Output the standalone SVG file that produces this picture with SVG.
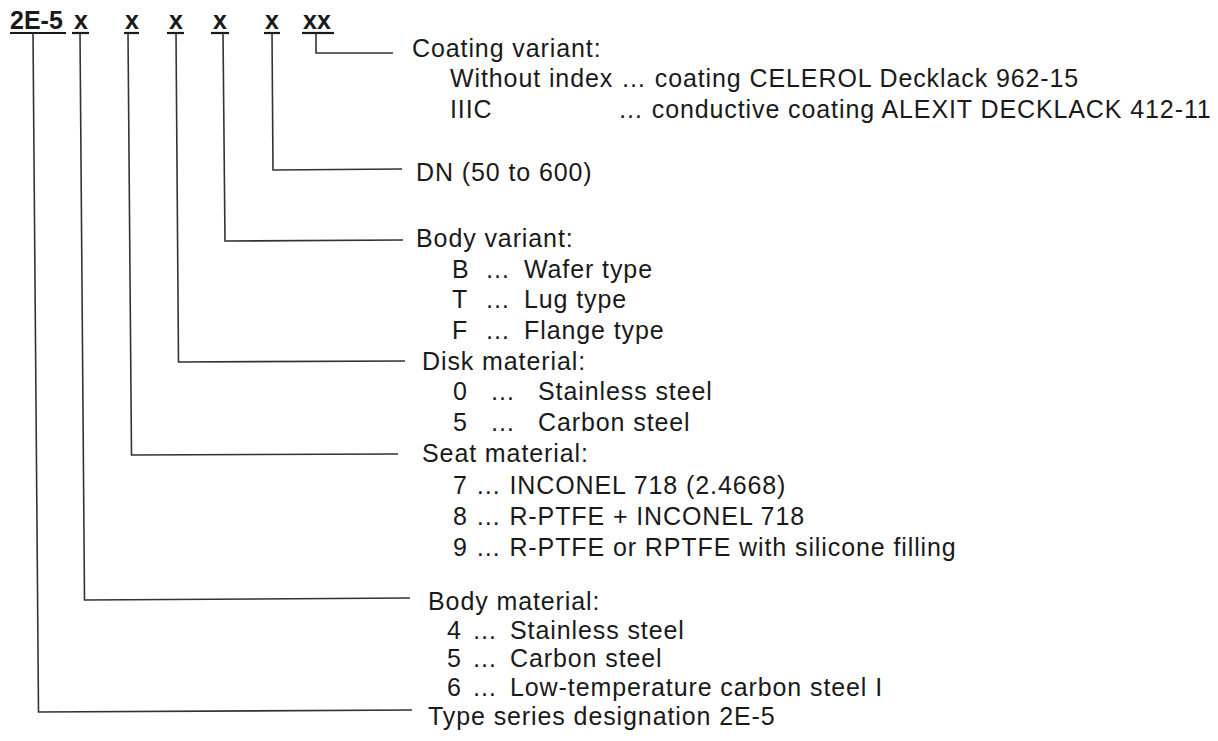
<svg xmlns="http://www.w3.org/2000/svg" width="1218" height="741" viewBox="0 0 1218 741">
<style>
text{font-family:"Liberation Sans",Arial,sans-serif;fill:#1a1a1a}
.t{font-size:25px;letter-spacing:0.9px}
.h{font-size:25px;font-weight:bold}
.c{fill:none;stroke:#333;stroke-width:1.6}
.u{stroke:#1a1a1a;stroke-width:2.2}
</style>
<rect width="1218" height="741" fill="#fff"/>
<g id="header">
<text class="h" x="10" y="29">2E-5</text>
<text class="h" x="74" y="29">x</text>
<text class="h" x="125" y="29">x</text>
<text class="h" x="169" y="29">x</text>
<text class="h" x="213" y="29">x</text>
<text class="h" x="265" y="29">x</text>
<text class="h" x="303" y="29">xx</text>
<g class="u">
<line x1="10" y1="33" x2="66" y2="33"/>
<line x1="72" y1="33" x2="89" y2="33"/>
<line x1="124" y1="33" x2="139" y2="33"/>
<line x1="167" y1="33" x2="184" y2="33"/>
<line x1="211" y1="33" x2="229" y2="33"/>
<line x1="264" y1="33" x2="280" y2="33"/>
<line x1="302" y1="33" x2="334" y2="33"/>
</g>
</g>
<g id="connectors" class="c">
<polyline points="316,33 316,53 393,53"/>
<polyline points="272,33 273,170 402,169"/>
<polyline points="223,33 225,241 403,240"/>
<polyline points="176,33 178.5,362 405,361"/>
<polyline points="128,33 131.5,455 398,454"/>
<polyline points="80,33 84.5,600 410,598"/>
<polyline points="33,33 38.5,712 412,710"/>
</g>
<g id="coating">
<text class="t" x="412" y="57">Coating variant:</text>
<text class="t" x="450" y="87">Without index … coating CELEROL Decklack 962-15</text>
<text class="t" x="450" y="118">IIIC</text>
<text class="t" x="618" y="118">… conductive coating ALEXIT DECKLACK 412-11</text>
</g>
<g id="dn">
<text class="t" x="416" y="181">DN (50 to 600)</text>
</g>
<g id="body-variant">
<text class="t" x="416" y="247">Body variant:</text>
<text class="t" x="452" y="278">B</text><text class="t" x="485" y="278">…</text><text class="t" x="524" y="278">Wafer type</text>
<text class="t" x="452" y="308">T</text><text class="t" x="485" y="308">…</text><text class="t" x="524" y="308">Lug type</text>
<text class="t" x="452" y="339">F</text><text class="t" x="485" y="339">…</text><text class="t" x="524" y="339">Flange type</text>
</g>
<g id="disk-material">
<text class="t" x="422" y="370">Disk material:</text>
<text class="t" x="453" y="400">0</text><text class="t" x="490" y="400">…</text><text class="t" x="538" y="400">Stainless steel</text>
<text class="t" x="453" y="431">5</text><text class="t" x="490" y="431">…</text><text class="t" x="538" y="431">Carbon steel</text>
</g>
<g id="seat-material">
<text class="t" x="422" y="462">Seat material:</text>
<text class="t" x="453" y="494">7 … INCONEL 718 (2.4668)</text>
<text class="t" x="453" y="525">8 … R-PTFE + INCONEL 718</text>
<text class="t" x="453" y="556">9 … R-PTFE or RPTFE with silicone filling</text>
</g>
<g id="body-material">
<text class="t" x="428" y="610">Body material:</text>
<text class="t" x="447" y="639">4</text><text class="t" x="472" y="639">…</text><text class="t" x="510" y="639">Stainless steel</text>
<text class="t" x="447" y="667">5</text><text class="t" x="472" y="667">…</text><text class="t" x="510" y="667">Carbon steel</text>
<text class="t" x="447" y="696">6</text><text class="t" x="472" y="696">…</text><text class="t" x="510" y="696">Low-temperature carbon steel I</text>
</g>
<g id="type-series">
<text class="t" x="428" y="725">Type series designation 2E-5</text>
</g>
</svg>
